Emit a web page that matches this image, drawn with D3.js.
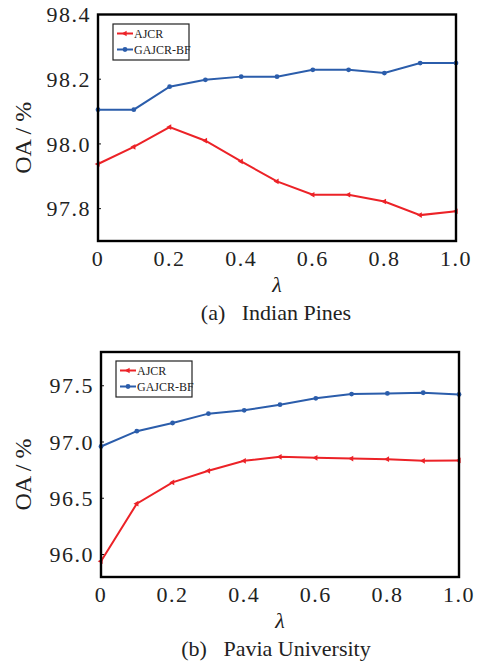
<!DOCTYPE html>
<html>
<head>
<meta charset="utf-8">
<script src="https://cdn.jsdelivr.net/npm/d3@7"></script>
<style>
  body { margin: 0; background: #fff; }
</style>
</head>
<body>
<svg width="477" height="668"></svg>
<script>
// lambda values on the x axis
var lambdas = [0, 0.1, 0.2, 0.3, 0.4, 0.5, 0.6, 0.7, 0.8, 0.9, 1.0];
var xTicks = [0, 0.2, 0.4, 0.6, 0.8, 1.0];
var seriesNames = ["AJCR", "GAJCR-BF"];

// (a) Indian Pines
var ipAJCR  = [97.938, 97.991, 98.052, 98.010, 97.946, 97.884, 97.843, 97.843, 97.822, 97.780, 97.792];
var ipGAJCR = [98.106, 98.106, 98.177, 98.198, 98.208, 98.208, 98.229, 98.229, 98.219, 98.250, 98.250];
var ipYTicks = [97.8, 98.0, 98.2, 98.4];

// (b) Pavia University
var puAJCR  = [95.94, 96.452, 96.641, 96.744, 96.833, 96.868, 96.859, 96.853, 96.847, 96.833, 96.836];
var puGAJCR = [96.96, 97.096, 97.169, 97.252, 97.282, 97.332, 97.388, 97.426, 97.432, 97.438, 97.423];
var puYTicks = [96.0, 96.5, 97.0, 97.5];

var red = "#ec2227", blue = "#2b5dab";
var svg = d3.select("svg");

// serif text helper
function txt(sel, size) {
  return sel.append("text")
    .style("font-family", "'Liberation Serif'")
    .style("font-size", size + "px")
    .style("fill", "#222");
}

function drawPanel(o) {
  var x = d3.scaleLinear().domain([0, 1]).range([o.left, o.right]);
  var y = d3.scaleLinear().domain(o.yDomain).range([o.bottom, o.top]);
  var g = svg.append("g");

  // y tick marks (inward) and labels
  o.yTicks.forEach(function(d) {
    g.append("line")
      .attr("x1", o.left).attr("x2", o.left + 3)
      .attr("y1", y(d)).attr("y2", y(d))
      .attr("stroke", "#111").attr("stroke-width", 1);
    txt(g, 22).style("letter-spacing", "1.5px")
      .attr("x", o.left - 7).attr("y", y(d))
      .attr("dy", "0.35em").attr("text-anchor", "end")
      .text(d.toFixed(1));
  });

  // x tick labels
  xTicks.forEach(function(d) {
    txt(g, 22).style("letter-spacing", "1.5px")
      .attr("x", x(d)).attr("y", o.bottom + 25)
      .attr("text-anchor", "middle")
      .text(d === 0 ? "0" : d.toFixed(1));
  });

  var line = d3.line()
    .x(function(d, i) { return x(lambdas[i]); })
    .y(function(d) { return y(d); });

  // AJCR red line with small triangle markers
  g.append("path").datum(o.a).attr("d", line)
    .attr("fill", "none").attr("stroke", red).attr("stroke-width", 2);
  g.selectAll(".ma").data(o.a).enter().append("path")
    .attr("transform", function(d, i) { return "translate(" + x(lambdas[i]) + "," + y(d) + ") rotate(-90)"; })
    .attr("d", d3.symbol(d3.symbolTriangle, 14))
    .attr("fill", red);

  // GAJCR-BF blue line with dot markers
  g.append("path").datum(o.b).attr("d", line)
    .attr("fill", "none").attr("stroke", blue).attr("stroke-width", 2);
  g.selectAll(".mb").data(o.b).enter().append("circle")
    .attr("cx", function(d, i) { return x(lambdas[i]); })
    .attr("cy", function(d) { return y(d); })
    .attr("r", 2.4).attr("fill", blue);

  // frame
  g.append("rect")
    .attr("x", o.left).attr("y", o.top)
    .attr("width", o.right - o.left).attr("height", o.bottom - o.top)
    .attr("fill", "none").attr("stroke", "#000").attr("stroke-width", 2.4);

  // legend
  var lg = g.append("g").attr("transform", "translate(" + o.legX + "," + o.legY + ")");
  lg.append("rect").attr("width", 76).attr("height", 36)
    .attr("fill", "#fff").attr("stroke", "#222").attr("stroke-width", 1.2);
  seriesNames.forEach(function(name, i) {
    var c = i === 0 ? red : blue;
    var yy = 9.5 + i * 16;
    lg.append("line").attr("x1", 4).attr("x2", 20).attr("y1", yy).attr("y2", yy)
      .attr("stroke", c).attr("stroke-width", 2);
    if (i === 0) {
      lg.append("path").attr("transform", "translate(12," + yy + ") rotate(-90)")
        .attr("d", d3.symbol(d3.symbolTriangle, 14)).attr("fill", c);
    } else {
      lg.append("circle").attr("cx", 12).attr("cy", yy).attr("r", 2.4).attr("fill", c);
    }
    txt(lg, 12).attr("x", 21).attr("y", yy).attr("dy", "0.35em").text(name);
  });

  // axis titles and caption
  var cy = (o.top + o.bottom) / 2;
  txt(g, 24)
    .attr("transform", "translate(" + 31 + "," + (cy + 10) + ") rotate(-90)")
    .attr("text-anchor", "middle").text("OA / %");
  txt(g, 22).style("font-style", "italic")
    .attr("x", (o.left + o.right) / 2).attr("y", o.bottom + 51)
    .attr("text-anchor", "middle").text("λ");
  txt(g, 22)
    .attr("x", o.capX).attr("y", o.bottom + 79)
    .attr("text-anchor", "middle").style("white-space", "pre")
    .text(o.caption);
}

drawPanel({
  left: 98, right: 456, top: 14.5, bottom: 241,
  yDomain: [97.7, 98.4], yTicks: ipYTicks,
  a: ipAJCR, b: ipGAJCR,
  legX: 113, legY: 24,
  capX: 276, caption: "(a)   Indian Pines"
});

drawPanel({
  left: 101, right: 459, top: 352, bottom: 577,
  yDomain: [95.8, 97.8], yTicks: puYTicks,
  a: puAJCR, b: puGAJCR,
  legX: 116, legY: 361,
  capX: 276, caption: "(b)   Pavia University"
});
</script>
</body>
</html>
